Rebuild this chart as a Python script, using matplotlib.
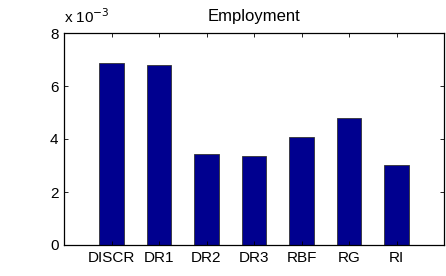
import numpy as np
import matplotlib
matplotlib.use("Agg")
from matplotlib import pyplot as plt

# --- data --- #
methods = ["DISCR", "DR1", "DR2", "DR3", "RBF", "RG", "RI"]
values = [6.86e-3, 6.81e-3, 3.42e-3, 3.34e-3, 4.08e-3, 4.79e-3, 3.01e-3]
scale = 1e-3

plt.rcParams['font.family'] = ['Liberation Sans', 'DejaVu Sans']

fig = plt.figure(figsize=(4.46, 2.76), dpi=100)
# axes box: left 64, right 444, top 33, bottom 245 (pixels)
ax = fig.add_axes([64 / 446, (276 - 245) / 276, 380 / 446, 212 / 276])

x = np.arange(1, len(methods) + 1)
ax.bar(x, np.array(values) / scale, width=0.52, color="#00008F",
       edgecolor="#333333", linewidth=0.6)

ax.set_xlim(0, 8)
ax.set_ylim(0, 8)
ax.set_xticks(x)
ax.set_xticklabels(methods)
ax.set_yticks([0, 2, 4, 6, 8])
ax.tick_params(direction="in", length=3, width=0.6, top=True, right=True,
               pad=4, labelsize=11, colors="black")
for s in ax.spines.values():
    s.set_linewidth(0.9)

ax.set_title("Employment", fontsize=12, pad=9)
ax.text(0.0, 1.035, r"x 10$^{-3}$", transform=ax.transAxes, fontsize=11,
        ha="left", va="bottom")

fig.savefig("out.png", dpi=100)
